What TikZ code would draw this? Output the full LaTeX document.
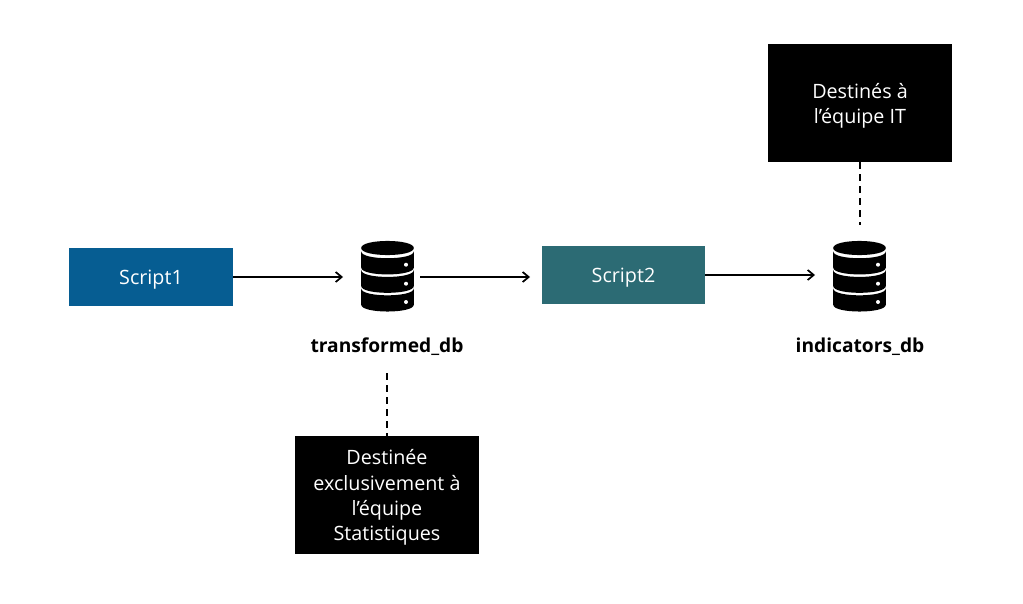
\documentclass[tikz,border=0pt]{standalone}
\usepackage{fontspec}
\setmainfont{Open Sans}
\usetikzlibrary{arrows.meta}
\definecolor{blueS}{RGB}{6,93,146}
\definecolor{tealS}{RGB}{44,107,116}
\newcommand{\dn}{\rule{0pt}{15.5pt}}
\tikzset{
  x=0.75pt,y=-0.75pt,
  box/.style={draw=none,fill=#1,text=white,inner sep=0pt,align=center,font=\fontsize{14.8}{19}\selectfont},
  dbnode/.style={inner sep=0pt,minimum width=39.75pt,minimum height=52.5pt},
  dblabel/.style={inner sep=0pt,font=\fontsize{14.4}{17}\selectfont\bfseries},
  flow/.style={draw=black,line width=1.4pt,-{Straight Barb[length=4.5pt,width=7.5pt,line width=1.3pt]}},
  note/.style={draw=black,line width=1.5pt,dash pattern=on 5.2pt off 3.8pt},
}
\newcommand{\dbband}[2]{% top edge, bottom edge (relative y)
  \fill[black] (-26.3,#1) .. controls (-26.3,#1+9.1) and (26.3,#1+9.1) .. (26.3,#1) -- (26.3,#2)
    .. controls (26.3,#2+9.1) and (-26.3,#2+9.1) .. (-26.3,#2) -- cycle;}
\newcommand{\dbicon}[1]{%
  \begin{scope}[shift={(#1)}]
    \fill[black] (-26.3,-29) .. controls (-26.3,-38.4) and (26.3,-38.4) .. (26.3,-29)
      .. controls (26.3,-19.6) and (-26.3,-19.6) .. (-26.3,-29) -- cycle;
    \dbband{-25.6}{-9.4}
    \dbband{-6.9}{9}
    \dbband{11.5}{27.7}
    \fill[white] (18.5,-12.3) circle[radius=2] (18.5,6.7) circle[radius=2] (18.5,25) circle[radius=2];
  \end{scope}}
\begin{document}
\begin{tikzpicture}
\useasboundingbox (0,0) rectangle (1023,603);
\node[box=blueS,minimum width=123pt,minimum height=43.5pt] (s1) at (151,277) {\dn Script1};
\node[box=tealS,minimum width=122.25pt,minimum height=43.5pt] (s2) at (623.5,275) {\dn Script2};
\node[box=black,minimum width=138pt,minimum height=88.5pt] (n1) at (860,103) {\dn Destinés à\\l’équipe IT};
\node[box=black,minimum width=138pt,minimum height=88.5pt] (n2) at (387,495) {\dn Destinée\\exclusivement à\\l’équipe\\Statistiques};
\node[dbnode] (d1) at (387.5,277) {};
\node[dbnode] (d2) at (859.5,277) {};
\dbicon{387.5,277}
\dbicon{859.5,277}
\node[dblabel] (l1) at (387,347) {transformed\_db};
\node[dblabel] (l2) at (860,347) {indicators\_db};
\coordinate (a1) at (343,277);
\coordinate (b1) at (420,277);
\coordinate (b2) at (530,277);
\coordinate (c1) at (815,275);
\coordinate (t2) at (860,225);
\coordinate (t1) at (387,373);
\draw[flow] (s1.east|-a1) -- (a1);
\draw[flow] (b1) -- (b2);
\draw[flow] (s2.east) -- (c1);
\draw[note] (n1.south) -- (t2);
\draw[note] (t1) -- (n2.north);
\end{tikzpicture}
\end{document}
